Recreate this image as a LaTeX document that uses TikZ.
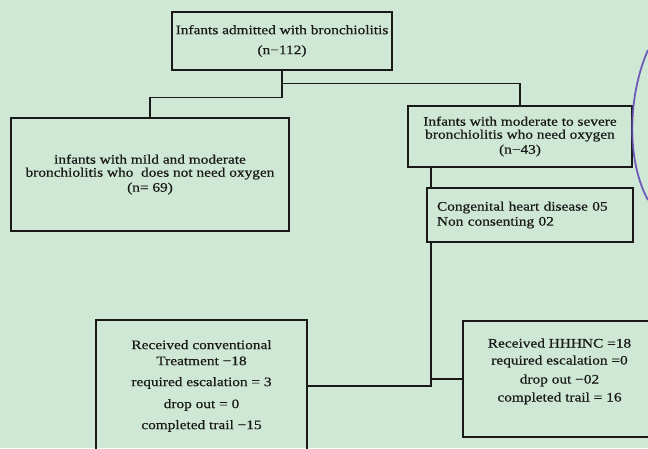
\documentclass[tikz,border=0pt]{standalone}
\usepackage{fontspec}
\setmainfont{Liberation Serif}[FakeStretch=1.18,FakeBold=0.6]
\definecolor{bg}{RGB}{207,232,213}
\definecolor{ink}{RGB}{25,25,25}
\definecolor{stamp}{RGB}{100,75,180}
\begin{document}
\begin{tikzpicture}[x=1pt,y=-1pt,
  box/.style={draw=ink, line width=1.2pt, inner sep=0pt, align=center, text=ink,
              font=\fontsize{13}{14}\selectfont},
  link/.style={draw=ink, line width=1.3pt}]
\fill[bg] (0,0) rectangle (648,448);
\useasboundingbox (0,0) rectangle (648,448);

\node[box, minimum width=220pt, minimum height=58pt] (top) at (282,41)
  {Infants admitted with bronchiolitis\\[6pt](n−112)};
\node[box, minimum width=278pt, minimum height=113pt] (mild) at (150,174.5)
  {infants with mild and moderate\\[-1pt]bronchiolitis who\ \ does not need oxygen\\[1pt](n= 69)};
\node[box, minimum width=224pt, minimum height=61pt] (mod) at (520,136.5)
  {Infants with moderate to severe\\[-1pt]bronchiolitis who need oxygen\\[1pt](n−43)};
\node[box, minimum width=206pt, minimum height=54pt, text width=186pt, align=left] (excl) at (530,215)
  {Congenital heart disease 05\\[1pt]Non consenting 02};
\node[box, minimum width=211pt, minimum height=132pt] (conv) at (201.5,386)
  {Received conventional\\[2pt]Treatment −18\\[7pt]required escalation = 3\\[8pt]drop out = 0\\[7pt]completed trail −15};
\node[box, minimum width=193pt, minimum height=116pt] (hhhnc) at (559.5,379)
  {Received HHHNC =18\\[3pt]required escalation =0\\[5pt]drop out −02\\[4pt]completed trail = 16\\[4pt]\mbox{}};

\draw[link] (top.south) -- ++(0,27) -| (mild.north);
\draw[link] ([yshift=-13pt]top.south) -| (mod.north);
\coordinate (jx) at (431,0);
\draw[link] (mod.south -| jx) -- (excl.north -| jx);
\draw[link] (excl.south -| jx) |- (conv.east);
\draw[link] (jx |- hhhnc.west) -- (hhhnc.west);

\draw[stamp, line width=1.8pt, opacity=0.9] (648,50) .. controls (628,95) and (626,160) .. (648,200);
\end{tikzpicture}
\end{document}
